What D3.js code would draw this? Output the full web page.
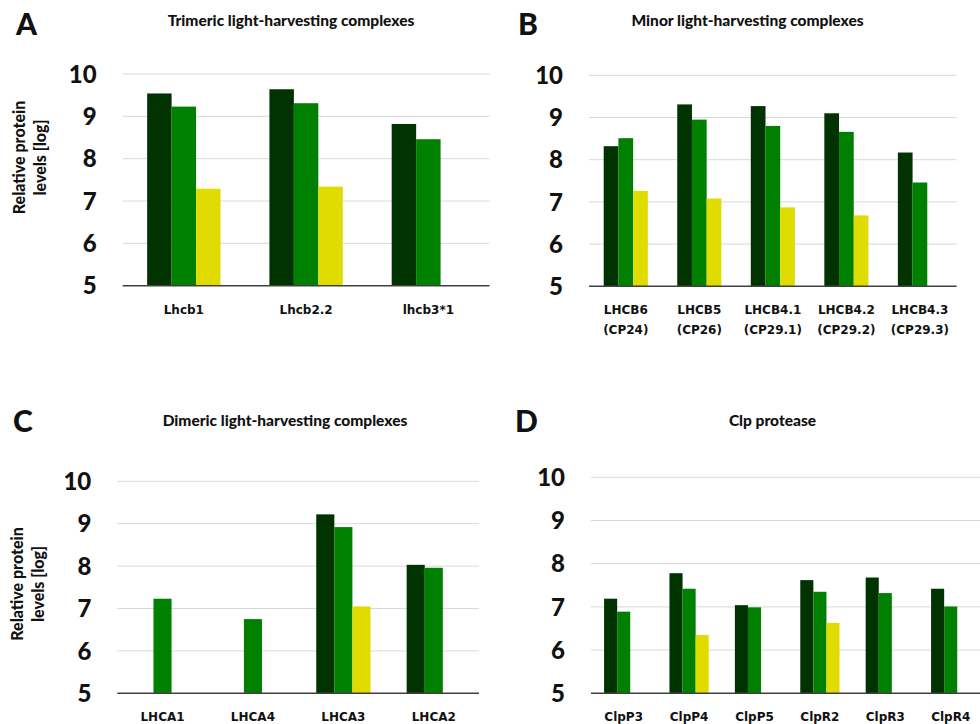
<!DOCTYPE html>
<html lang="en">
<head>
<meta charset="UTF-8">
<title>Relative protein levels</title>
<script src="https://cdn.jsdelivr.net/npm/d3@7"></script>
<style>
body { margin: 0; background: #fff; }
svg { display: block; }
.tick-lbl { font: 900 24px Lato, "Open Sans", sans-serif; fill: #111; }
.cat-lbl { font: bold 12px "DejaVu Sans", sans-serif; fill: #111; }
.ttl { font: 900 15.5px Lato, "Open Sans", sans-serif; fill: #111; }
.letter { font: 900 30px Lato, "Open Sans", sans-serif; fill: #111; }
.ytitle { font: 900 16px Lato, "Open Sans", sans-serif; fill: #111; }
</style>
</head>
<body>
<div id="chart"></div>
<script>
// ---- data (log relative protein levels); null = not detected ----
const seriesNames = ["dark", "mid", "light"];
const yTicks = [5, 6, 7, 8, 9, 10];

const trimericCats = ["Lhcb1", "Lhcb2.2", "lhcb3*1"];
const trimericDark  = [9.54, 9.64, 8.82];
const trimericMid   = [9.23, 9.31, 8.46];
const trimericLight = [7.29, 7.34, null];

const minorCats = [["LHCB6", "(CP24)"], ["LHCB5", "(CP26)"], ["LHCB4.1", "(CP29.1)"], ["LHCB4.2", "(CP29.2)"], ["LHCB4.3", "(CP29.3)"]];
const minorDark  = [8.32, 9.31, 9.27, 9.10, 8.17];
const minorMid   = [8.51, 8.95, 8.80, 8.66, 7.46];
const minorLight = [7.26, 7.08, 6.87, 6.68, null];

const dimericCats = ["LHCA1", "LHCA4", "LHCA3", "LHCA2"];
const dimericDark  = [null, null, 9.22, 8.03];
const dimericMid   = [7.23, 6.75, 8.92, 7.96];
const dimericLight = [null, null, 7.05, null];

const clpCats = ["ClpP3", "ClpP4", "ClpP5", "ClpR2", "ClpR3", "ClpR4"];
const clpDark  = [7.19, 7.78, 7.04, 7.62, 7.68, 7.42];
const clpMid   = [6.89, 7.42, 6.99, 7.35, 7.32, 7.01];
const clpLight = [null, 6.35, null, 6.63, null, null];

const colors = { dark: "#003300", mid: "#008000", light: "#e0dc00" };

const W = 980, H = 724;
const svg = d3.select("#chart").append("svg")
    .attr("width", W)
    .attr("height", H);

function panel(p) {
    const x = d3.scaleBand().domain(d3.range(p.cats.length)).range([p.x0, p.x1]);
    const inner = d3.scaleBand().domain(seriesNames)
        .range([x.bandwidth() * 0.2, x.bandwidth() * 0.8]);
    const y = d3.scaleLinear().domain([5, 10]).range([p.yBase, p.yTop]);
    const g = svg.append("g");

    // gridlines
    g.selectAll("line.grid")
        .data(yTicks.filter(t => t > 5))
        .join("line")
        .attr("x1", p.x0).attr("x2", p.x1)
        .attr("y1", d => y(d)).attr("y2", d => y(d))
        .attr("stroke", "#d9d9d9").attr("stroke-width", 1);

    // tick labels
    g.selectAll("text.tick-lbl")
        .data(yTicks)
        .join("text")
        .attr("class", "tick-lbl")
        .attr("x", p.x0 - 26)
        .attr("y", d => y(d))
        .attr("dy", "0.36em")
        .attr("text-anchor", "end")
        .text(d => d);

    // bars
    const rows = [];
    p.cats.forEach((c, i) => {
        seriesNames.forEach((s, k) => {
            const v = p.values[k][i];
            if (v != null) rows.push({ i, s, v });
        });
    });
    g.selectAll("rect.bar")
        .data(rows)
        .join("rect")
        .attr("x", d => x(d.i) + inner(d.s))
        .attr("width", inner.bandwidth())
        .attr("y", d => y(d.v))
        .attr("height", d => y(5) - y(d.v))
        .attr("fill", d => colors[d.s]);

    // baseline
    g.append("line")
        .attr("x1", p.x0).attr("x2", p.x1)
        .attr("y1", y(5)).attr("y2", y(5))
        .attr("stroke", "#404040").attr("stroke-width", 1.5);

    // category labels
    const lbl = g.selectAll("text.cat-lbl")
        .data(p.cats)
        .join("text")
        .attr("class", "cat-lbl")
        .attr("text-anchor", "middle")
        .attr("x", (d, i) => x(i) + x.bandwidth() / 2)
        .attr("y", y(5) + 28);
    lbl.each(function(d) {
        const lines = Array.isArray(d) ? d : [d];
        d3.select(this).selectAll("tspan")
            .data(lines)
            .join("tspan")
            .attr("x", d3.select(this).attr("x"))
            .attr("dy", (t, j) => j === 0 ? 0 : 20)
            .text(t => t);
    });

    // title and panel letter
    g.append("text").attr("class", "ttl")
        .attr("x", p.tx).attr("y", p.ty)
        .attr("text-anchor", "middle")
        .text(p.title);
    g.append("text").attr("class", "letter")
        .attr("x", p.lx).attr("y", p.ly)
        .text(p.letter);

    if (p.yTitle) {
        const yt = g.append("text").attr("class", "ytitle")
            .attr("text-anchor", "middle")
            .attr("transform", `translate(${p.yTitleX},${p.yTitleY}) rotate(-90)`);
        yt.append("tspan").attr("x", 0).attr("y", 0).text("Relative protein");
        yt.append("tspan").attr("x", 0).attr("y", 21).text("levels [log]");
    }
}

panel({ cats: trimericCats, values: [trimericDark, trimericMid, trimericLight],
    x0: 122.7, x1: 489.5, yTop: 74, yBase: 285.7,
    title: "Trimeric light-harvesting complexes", tx: 291, ty: 26,
    letter: "A", lx: 16, ly: 35, yTitle: true, yTitleX: 25, yTitleY: 157.5 });

panel({ cats: minorCats, values: [minorDark, minorMid, minorLight],
    x0: 589, x1: 956.7, yTop: 75.3, yBase: 286.3,
    title: "Minor light-harvesting complexes", tx: 747.5, ty: 26,
    letter: "B", lx: 518, ly: 35 });

panel({ cats: dimericCats, values: [dimericDark, dimericMid, dimericLight],
    x0: 117.3, x1: 479, yTop: 481.3, yBase: 693.3,
    title: "Dimeric light-harvesting complexes", tx: 285, ty: 426,
    letter: "C", lx: 13, ly: 432, yTitle: true, yTitleX: 23, yTitleY: 584 });

panel({ cats: clpCats, values: [clpDark, clpMid, clpLight],
    x0: 591, x1: 983.4, yTop: 477.3, yBase: 693.3,
    title: "Clp protease", tx: 772.5, ty: 426,
    letter: "D", lx: 515, ly: 432 });
</script>
</body>
</html>
